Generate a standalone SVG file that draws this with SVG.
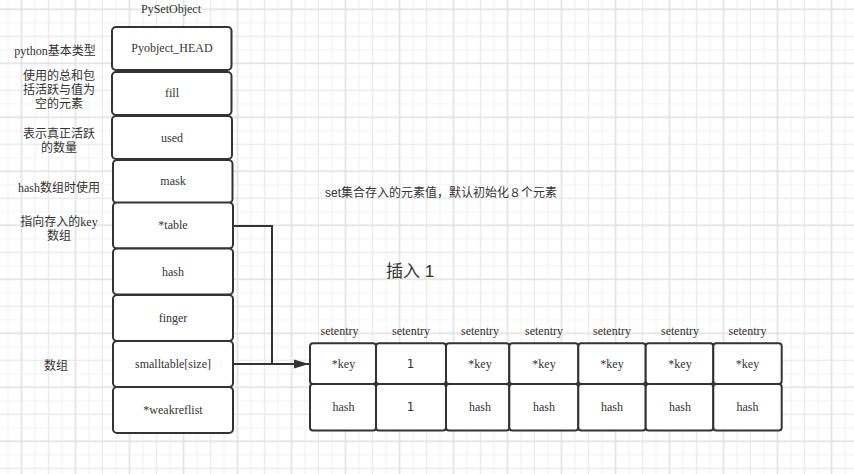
<svg xmlns="http://www.w3.org/2000/svg" width="854" height="474" viewBox="0 0 854 474">
<defs>
<pattern id="gminor" x="14.75" y="2.55" width="13.5" height="13.5" patternUnits="userSpaceOnUse">
<path d="M6.75 0V13.5M0 6.75H13.5" stroke="#f2f2f2" stroke-width="1" fill="none"/>
</pattern>
<pattern id="gmid" x="8" y="-4.2" width="27" height="27" patternUnits="userSpaceOnUse">
<path d="M13.5 0V27M0 13.5H27" stroke="#eaeaea" stroke-width="1" fill="none"/>
</pattern>
<pattern id="gmajor" x="-5.5" y="-17.7" width="54" height="54" patternUnits="userSpaceOnUse">
<path d="M27 0V54M0 27H54" stroke="#dfdfdf" stroke-width="1" fill="none"/>
</pattern>
<marker id="arrow" markerWidth="16" markerHeight="10" refX="15" refY="5" orient="auto" markerUnits="userSpaceOnUse">
<path d="M0 0.5L15 5L0 9.5Z" fill="#333"/>
</marker>
</defs>
<style>
.box{fill:#fff;stroke:#333;stroke-width:2}
.t{font-family:"Liberation Serif","Noto Sans CJK SC",serif;font-size:12px;fill:#333;text-anchor:middle;dominant-baseline:central}
.s{font-family:"Liberation Sans","Noto Sans CJK SC",sans-serif;font-size:12px;fill:#333;text-anchor:middle;dominant-baseline:central}
.n{font-family:"DejaVu Sans","Noto Sans CJK SC",sans-serif;font-size:12px;fill:#333;text-anchor:middle;dominant-baseline:central}
.c{fill:none;stroke:#333;stroke-width:2}
</style>
<rect width="854" height="474" fill="#fff"/>
<rect width="854" height="474" fill="url(#gminor)"/>
<rect width="854" height="474" fill="url(#gmid)"/>
<rect width="854" height="474" fill="url(#gmajor)"/>

<g id="labels">
<text class="t" x="171" y="9">PySetObject</text>
<text class="t" x="55" y="51">python基本类型</text>
<text class="t" x="59" y="76">使用的总和包</text>
<text class="t" x="59" y="90">括活跃与值为</text>
<text class="t" x="59" y="104">空的元素</text>
<text class="t" x="59" y="134">表示真正活跃</text>
<text class="t" x="59" y="148">的数量</text>
<text class="t" x="59" y="188">hash数组时使用</text>
<text class="t" x="59" y="222">指向存入的key</text>
<text class="t" x="59" y="236">数组</text>
<text class="t" x="56" y="366">数组</text>
<text class="s" x="441" y="193">set集合存入的元素值，默认初始化８个元素</text>
<text class="s" x="410" y="271" style="font-size:17px">插入 1</text>
<text class="t" x="339.5" y="331">setentry</text>
<text class="t" x="411" y="331">setentry</text>
<text class="t" x="480" y="331">setentry</text>
<text class="t" x="544" y="331">setentry</text>
<text class="t" x="612" y="331">setentry</text>
<text class="t" x="680" y="331">setentry</text>
<text class="t" x="747.5" y="331">setentry</text>
</g>

<g id="connectors">
<path class="c" d="M233 226H272V364H296"/>
<path class="c" d="M233 364H309" marker-end="url(#arrow)"/>
</g>

<g id="node-head"><rect class="box" x="112" y="27" width="119.5" height="43" rx="4"/><text class="t" x="172" y="48">Pyobject_HEAD</text></g>
<g id="node-fill"><rect class="box" x="112" y="72" width="119.5" height="43" rx="4"/><text class="t" x="172" y="93">fill</text></g>
<g id="node-used"><rect class="box" x="112" y="116" width="120" height="43" rx="4"/><text class="t" x="172" y="138">used</text></g>
<g id="node-mask"><rect class="box" x="113" y="160" width="119.5" height="43" rx="4"/><text class="t" x="173" y="181">mask</text></g>
<g id="node-table"><rect class="box" x="113" y="202.5" width="120" height="46" rx="4"/><text class="t" x="173" y="225">*table</text></g>
<g id="node-hash"><rect class="box" x="113" y="248.5" width="120" height="46" rx="4"/><text class="t" x="173" y="272">hash</text></g>
<g id="node-finger"><rect class="box" x="113" y="295" width="120" height="46" rx="4"/><text class="t" x="173" y="318">finger</text></g>
<g id="node-smalltable"><rect class="box" x="113" y="341" width="120" height="46" rx="4"/><text class="t" x="173" y="364">smalltable[size]</text></g>
<g id="node-weakreflist"><rect class="box" x="113" y="387" width="120" height="46" rx="4"/><text class="t" x="173" y="410">*weakreflist</text></g>

<g id="entry-1"><rect class="box" x="310" y="343.3" width="66" height="40.7" rx="3"/><rect class="box" x="310" y="384" width="66" height="46.5" rx="3"/><text class="t" x="343.5" y="364">*key</text><text class="t" x="343.5" y="407">hash</text></g>
<g id="entry-2"><rect class="box" x="376" y="343.3" width="70" height="40.7" rx="3"/><rect class="box" x="376" y="384" width="70" height="46.5" rx="3"/><text class="n" x="410.5" y="363.5">1</text><text class="n" x="410.5" y="406.5">1</text></g>
<g id="entry-3"><rect class="box" x="446" y="343.3" width="63.3" height="40.7" rx="3"/><rect class="box" x="446" y="384" width="63.3" height="46.5" rx="3"/><text class="t" x="480" y="364">*key</text><text class="t" x="480" y="407">hash</text></g>
<g id="entry-4"><rect class="box" x="509.3" y="343.3" width="69" height="40.7" rx="3"/><rect class="box" x="509.3" y="384" width="69" height="46.5" rx="3"/><text class="t" x="544" y="364">*key</text><text class="t" x="544" y="407">hash</text></g>
<g id="entry-5"><rect class="box" x="578.3" y="343.3" width="67.4" height="40.7" rx="3"/><rect class="box" x="578.3" y="384" width="67.4" height="46.5" rx="3"/><text class="t" x="612" y="364">*key</text><text class="t" x="612" y="407">hash</text></g>
<g id="entry-6"><rect class="box" x="645.7" y="343.3" width="67.6" height="40.7" rx="3"/><rect class="box" x="645.7" y="384" width="67.6" height="46.5" rx="3"/><text class="t" x="680" y="364">*key</text><text class="t" x="680" y="407">hash</text></g>
<g id="entry-7"><rect class="box" x="713.3" y="343.3" width="68.4" height="40.7" rx="3"/><rect class="box" x="713.3" y="384" width="68.4" height="46.5" rx="3"/><text class="t" x="747.5" y="364">*key</text><text class="t" x="747.5" y="407">hash</text></g>
</svg>
